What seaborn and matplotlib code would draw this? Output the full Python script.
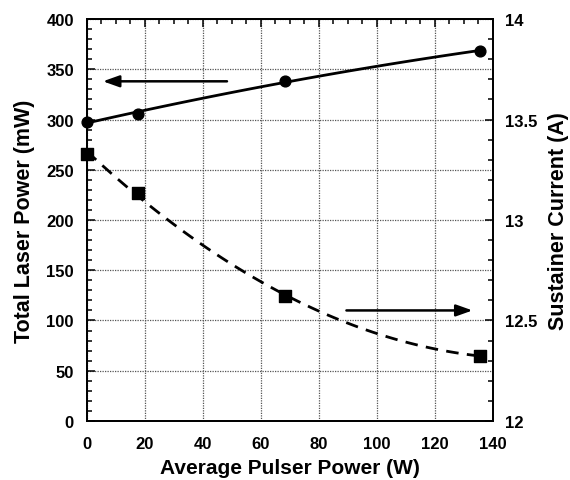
import numpy as np
import pandas as pd
import seaborn as sns
import matplotlib.pyplot as plt
from matplotlib.ticker import MultipleLocator

# Data
pulser_power = [0, 17.7, 68.3, 135.5]          # Average Pulser Power (W)
laser_power = [298, 305.5, 338, 368.5]          # Total Laser Power (mW)
sustainer_current = [13.33, 13.135, 12.62, 12.325]  # Sustainer Current (A)

x_ticks = [0, 20, 40, 60, 80, 100, 120, 140]
left_ticks = [0, 50, 100, 150, 200, 250, 300, 350, 400]
right_ticks = [12, 12.5, 13, 13.5, 14]
right_tick_labels = ["12", "12.5", "13", "13.5", "14"]

df = pd.DataFrame({"power": pulser_power, "laser": laser_power,
                   "current": sustainer_current})

sns.set_theme(style="white")
plt.rcParams["font.family"] = ["Liberation Sans", "DejaVu Sans"]
plt.rcParams["font.weight"] = "bold"
plt.rcParams["axes.labelweight"] = "bold"

fig = plt.figure(figsize=(5.7, 4.81), dpi=100)
ax = fig.add_axes([0.1526, 0.1227, 0.712, 0.8357])
ax2 = ax.twinx()

sns.regplot(data=df, x="power", y="laser", order=2, ci=None, ax=ax,
            marker="o", color="black",
            scatter_kws=dict(s=60, clip_on=False, zorder=5, alpha=1),
            line_kws=dict(lw=2, zorder=4))
sns.regplot(data=df, x="power", y="current", order=2, ci=None, ax=ax2,
            marker="s", color="black",
            scatter_kws=dict(s=80, clip_on=False, zorder=5, alpha=1),
            line_kws=dict(lw=2, ls=(0, (4.5, 3)), zorder=4))

ax.set_xlim(0, 140)
ax.set_ylim(0, 400)
ax2.set_ylim(12, 14)
ax.set_xticks(x_ticks)
ax.set_yticks(left_ticks)
ax2.set_yticks(right_ticks)
ax2.set_yticklabels(right_tick_labels)
ax.xaxis.set_minor_locator(MultipleLocator(5))
ax.yaxis.set_minor_locator(MultipleLocator(10))
ax2.yaxis.set_minor_locator(MultipleLocator(0.1))

ax.grid(True, which="major", ls=(0, (1, 1)), color="#555555", lw=0.9)
ax.set_axisbelow(True)
ax2.grid(False)

for a in (ax, ax2):
    for s in a.spines.values():
        s.set_linewidth(1.3)
        s.set_color("black")

ax.tick_params(axis="both", which="both", direction="in", top=True,
               right=False, colors="black", labelsize=12, width=1.1)
ax.tick_params(which="major", length=6)
ax.tick_params(which="minor", length=3.5)
ax.tick_params(axis="x", which="both", pad=10.5)
ax.tick_params(axis="y", which="both", pad=9.5)
ax2.tick_params(axis="y", which="both", direction="in", colors="black",
                labelsize=12, width=1.1, pad=8.5)
ax2.tick_params(which="major", length=6)
ax2.tick_params(which="minor", length=3.5)
for lab in ax.get_xticklabels() + ax.get_yticklabels() + ax2.get_yticklabels():
    lab.set_fontweight("bold")

ax.set_xlabel("Average Pulser Power (W)", fontsize=15, fontweight="bold",
              color="black", labelpad=5)
ax.set_ylabel("Total Laser Power (mW)", fontsize=15.5, fontweight="bold",
              color="black", labelpad=8)
ax2.set_ylabel("Sustainer Current (A)", fontsize=15.5, fontweight="bold",
               color="black", labelpad=8)

ax.annotate("", xy=(5.5, 338), xytext=(48.3, 338),
            arrowprops=dict(arrowstyle="-|>,head_length=0.7,head_width=0.25",
                            color="black", lw=1.8, mutation_scale=14,
                            shrinkA=0, shrinkB=0))
ax2.annotate("", xy=(133, 12.55), xytext=(89.5, 12.55),
             arrowprops=dict(arrowstyle="-|>,head_length=0.7,head_width=0.25",
                             color="black", lw=1.8, mutation_scale=14,
                             shrinkA=0, shrinkB=0))

fig.savefig("out.png", dpi=100)
